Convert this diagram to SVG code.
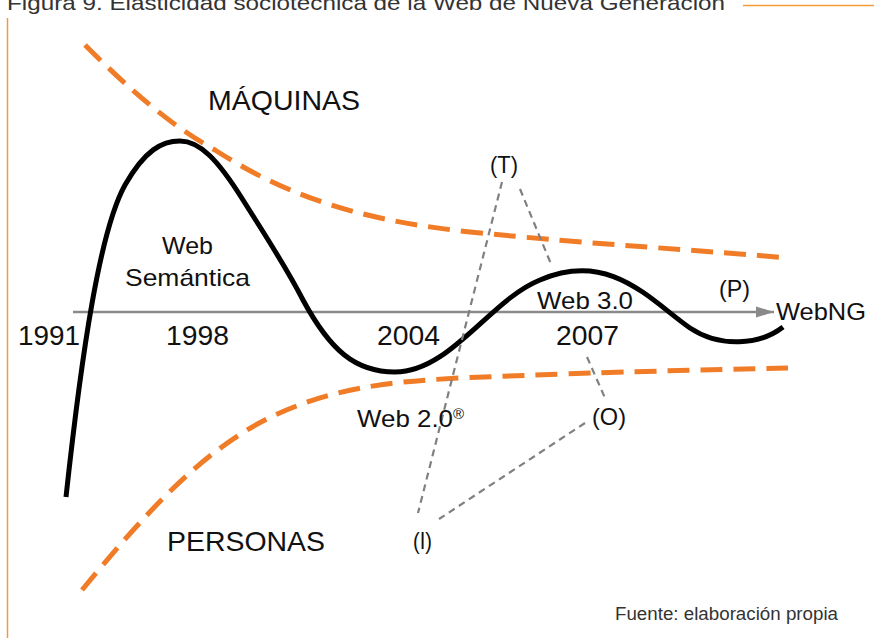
<svg xmlns="http://www.w3.org/2000/svg" width="874" height="638" viewBox="0 0 874 638">
<defs>
<style>
text{font-family:"Liberation Sans",Arial,sans-serif;fill:#111}
.big{font-size:27.5px}
.med{font-size:24px}
.orange{fill:none;stroke:#f07c28;stroke-width:5;stroke-dasharray:22 11}
.gd{fill:none;stroke:#808080;stroke-width:2.2;stroke-dasharray:7 5}
</style>
<marker id="arr" viewBox="0 0 18 12" refX="18" refY="6" markerWidth="18" markerHeight="12" markerUnits="userSpaceOnUse" orient="auto"><path d="M0,0.5 L18,6 L0,11.5 Z" fill="#8a8a8a"/></marker>
</defs>
<rect width="874" height="638" fill="#fff"/>
<text x="7" y="10" font-size="21" style="fill:#333" textLength="718" lengthAdjust="spacingAndGlyphs">Figura 9. Elasticidad sociotécnica de la Web de Nueva Generación</text>
<line x1="743" y1="5.5" x2="874" y2="5.5" stroke="#f39a3a" stroke-width="1.5"/>
<line x1="7.5" y1="18" x2="7.5" y2="638" stroke="#f39a3a" stroke-width="1.5"/>
<g id="connectors">
<path class="orange" d="M85,45 C130,90 170,125 215,150 C300,205 380,222 470,232 C600,245 700,250 788,258"/>
<path class="orange" d="M82,590 C140,520 200,450 275,415 C330,390 380,382 460,378 C600,372 700,370 788,368"/>
<line x1="73" y1="312" x2="774" y2="312" stroke="#8a8a8a" stroke-width="2.5" marker-end="url(#arr)"/>
<path d="M66,497 C82,350 100,230 125,185 C145,150 162,141 180,141 C200,141 218,160 243,200 C265,235 285,265 303,300 C330,350 355,372 395,372 C450,372 490,300 540,280 C610,250 650,300 690,328 C720,348 760,345 783,327" fill="none" stroke="#000" stroke-width="5"/>
<line class="gd" x1="502" y1="182" x2="418" y2="513"/>
<line class="gd" x1="520" y1="189" x2="551" y2="264"/>
<line class="gd" x1="587" y1="357" x2="605" y2="398"/>
<line class="gd" x1="585" y1="423" x2="439" y2="519"/>
</g>
<g id="maquinas"><text class="big" x="208" y="110" textLength="152" lengthAdjust="spacingAndGlyphs">MÁQUINAS</text></g>
<g id="personas"><text class="big" x="167" y="551" textLength="158" lengthAdjust="spacingAndGlyphs">PERSONAS</text></g>
<g id="web-semantica"><text class="med" x="162" y="254" textLength="51" lengthAdjust="spacingAndGlyphs">Web</text><text class="med" x="125" y="286" textLength="125" lengthAdjust="spacingAndGlyphs">Semántica</text></g>
<g id="y1991"><text class="big" x="18" y="345" textLength="62" lengthAdjust="spacingAndGlyphs">1991</text></g>
<g id="y1998"><text class="big" x="166" y="345" textLength="63" lengthAdjust="spacingAndGlyphs">1998</text></g>
<g id="y2004"><text class="big" x="377" y="345" textLength="63" lengthAdjust="spacingAndGlyphs">2004</text></g>
<g id="y2007"><text class="big" x="556" y="345" textLength="63" lengthAdjust="spacingAndGlyphs">2007</text></g>
<g id="web30"><text class="med" x="537" y="309" textLength="96" lengthAdjust="spacingAndGlyphs">Web 3.0</text></g>
<g id="P"><text class="med" x="719" y="297" textLength="31" lengthAdjust="spacingAndGlyphs">(P)</text></g>
<g id="webng"><text class="med" x="776" y="320" textLength="90" lengthAdjust="spacingAndGlyphs">WebNG</text></g>
<g id="T"><text class="med" x="490" y="173" textLength="28" lengthAdjust="spacingAndGlyphs">(T)</text></g>
<g id="O"><text class="med" x="592" y="425" textLength="34" lengthAdjust="spacingAndGlyphs">(O)</text></g>
<g id="web20"><text class="med" x="357" y="427" textLength="96" lengthAdjust="spacingAndGlyphs">Web 2.0</text><text x="453" y="419" font-size="15">®</text></g>
<g id="I"><text class="med" x="413" y="549" textLength="19" lengthAdjust="spacingAndGlyphs">(I)</text></g>
<g id="fuente"><text x="615" y="620" font-size="17.5" style="fill:#333" textLength="223" lengthAdjust="spacingAndGlyphs">Fuente: elaboración propia</text></g>
</svg>
